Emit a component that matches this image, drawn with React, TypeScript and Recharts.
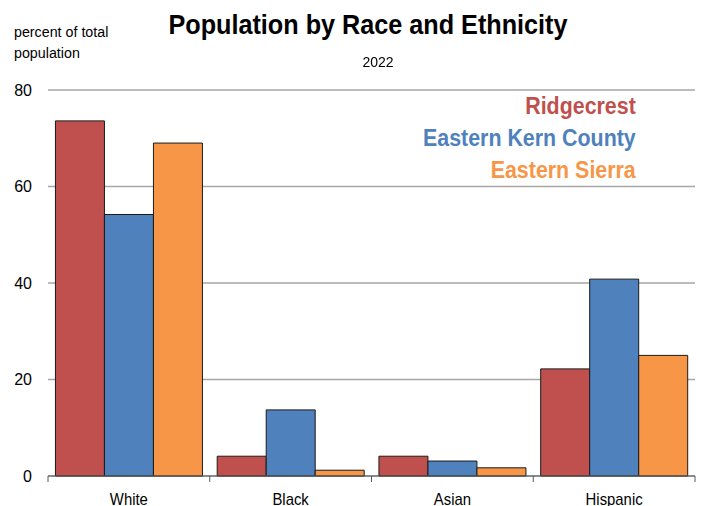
import React from "react"
import { BarChart, Bar, XAxis, YAxis, CartesianGrid } from "recharts"

const categories = ["White", "Black", "Asian", "Hispanic"]
const ridgecrest = [73.6, 4.1, 4.1, 22.2]
const easternKern = [54.2, 13.7, 3.1, 40.8]
const easternSierra = [69.0, 1.2, 1.7, 25.0]
const yTicks = [0, 20, 40, 60, 80]

const series = [
  { key: "ridgecrest", name: "Ridgecrest", color: "#C0504D" },
  { key: "easternKern", name: "Eastern Kern County", color: "#4F81BD" },
  { key: "easternSierra", name: "Eastern Sierra", color: "#F79646" },
]

const data = categories.map((c, i) => ({
  category: c,
  ridgecrest: ridgecrest[i],
  easternKern: easternKern[i],
  easternSierra: easternSierra[i],
}))

const font = '"Liberation Sans", Arial, sans-serif'
const W = 704
const H = 506
const plotLeft = 48
const plotRight = 695
const axisY = 476
const band = (plotRight - plotLeft) / categories.length

function CategoryTick(props: any) {
  const { x, y, payload, index } = props
  const left = x - band / 2
  const right = x + band / 2
  return (
    <g>
      <line x1={left} y1={y} x2={left} y2={y + 6} stroke="#595959" />
      {index === categories.length - 1 && (
        <line x1={right} y1={y} x2={right} y2={y + 6} stroke="#595959" />
      )}
      <text
        x={x}
        y={y + 29}
        textAnchor="middle"
        fontSize={16}
        fill="#000"
        fontFamily={font}
        transform={`translate(${x} 0) scale(0.93 1) translate(${-x} 0)`}
      >
        {payload.value}
      </text>
    </g>
  )
}

export default function App() {
  return (
    <div style={{ position: "fixed", left: 0, top: 0, width: W, height: H, background: "#fff", fontFamily: font }}>
      <BarChart
        width={W}
        height={H}
        data={data}
        margin={{ top: 90, right: W - plotRight, bottom: 0, left: 0 }}
        barCategoryGap="4.6%"
        barGap={0}
      >
        <CartesianGrid vertical={false} stroke="#A6A6A6" strokeWidth={1.3} />
        <XAxis
          dataKey="category"
          height={H - axisY}
          tickLine={false}
          tickSize={0}
          tickMargin={0}
          axisLine={{ stroke: "#595959" }}
          tick={<CategoryTick />}
          interval={0}
        />
        <YAxis
          width={plotLeft}
          domain={[0, 80]}
          ticks={yTicks}
          axisLine={false}
          tickLine={false}
          tickSize={0}
          tickMargin={16}
          tick={{ fontSize: 16, fill: "#000", fontFamily: font }}
        />
        {series.map((s) => (
          <Bar
            key={s.key}
            dataKey={s.key}
            name={s.name}
            fill={s.color}
            stroke="#1a1a1a"
            strokeWidth={1}
            isAnimationActive={false}
          />
        ))}
      </BarChart>
      <div
        style={{
          position: "absolute", left: 14, top: 21, fontSize: 15.5, lineHeight: "21px", color: "#000",
          transform: "scaleX(0.92)", transformOrigin: "left top", whiteSpace: "nowrap",
        }}
      >
        percent of total
        <br />
        population
      </div>
      <div
        style={{
          position: "absolute", left: 0, width: 736, top: 9, textAlign: "center", fontSize: 28,
          fontWeight: "bold", color: "#000", transform: "scaleX(0.9)", transformOrigin: "368px 0",
        }}
      >
        Population by Race and Ethnicity
      </div>
      <div style={{ position: "absolute", left: 0, width: 756, top: 54, textAlign: "center", fontSize: 14, color: "#000" }}>
        2022
      </div>
      <div
        style={{
          position: "absolute", right: W - 636, top: 90, textAlign: "right", fontSize: 23, fontWeight: "bold",
          lineHeight: "32px", transform: "scaleX(0.93)", transformOrigin: "right top", whiteSpace: "nowrap",
        }}
      >
        {series.map((s) => (
          <div key={s.key} style={{ color: s.color }}>{s.name}</div>
        ))}
      </div>
    </div>
  )
}
